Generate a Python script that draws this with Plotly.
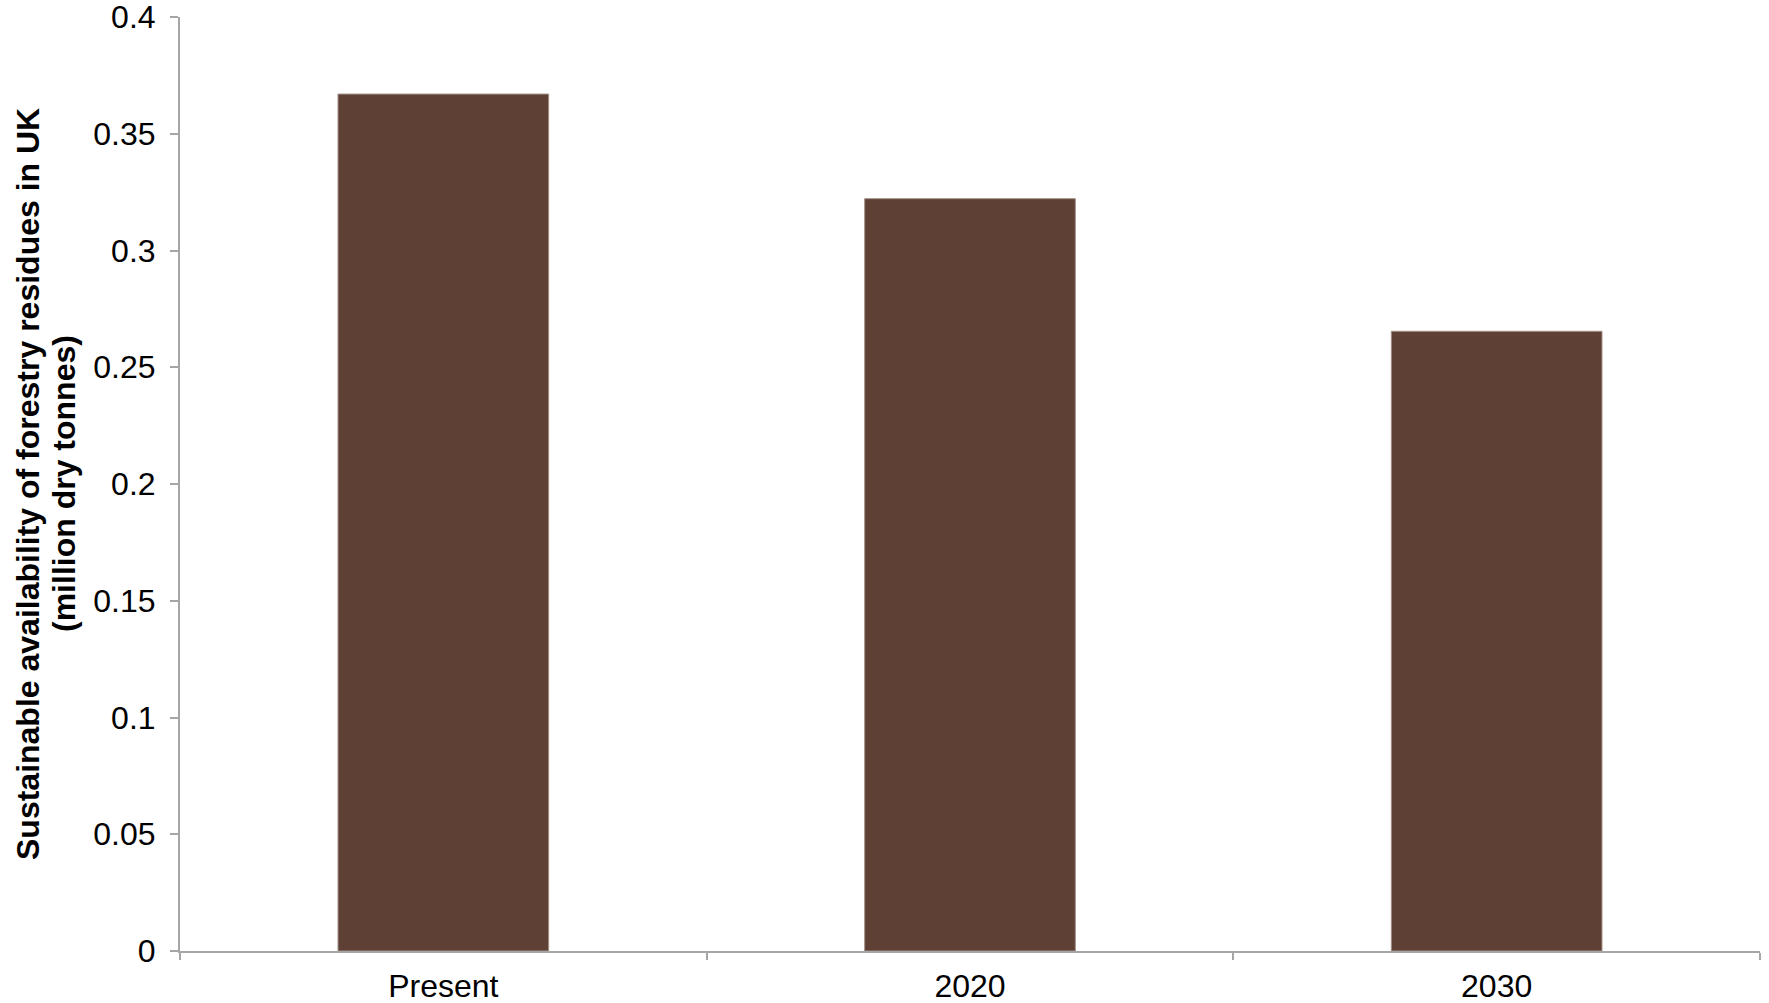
import plotly.graph_objects as go

categories = ["Present", "2020", "2030"]
values = [0.367, 0.3222, 0.2654]
y_ticks = [0, 0.05, 0.1, 0.15, 0.2, 0.25, 0.3, 0.35, 0.4]
y_tick_labels = ["0", "0.05", "0.1", "0.15", "0.2", "0.25", "0.3", "0.35", "0.4"]
title_lines = ["Sustainable availability of forestry residues in UK", "(million dry tonnes)"]

fig = go.Figure(go.Bar(
    x=categories, y=values, width=0.4,
    marker=dict(color="#5e4034", line=dict(color="#a39088", width=1)),
))

axis_color = "#a6a6a6"
font_family = "Liberation Sans, Arial, sans-serif"

fig.update_layout(
    width=1769, height=1003,
    margin=dict(l=180, r=9, t=17, b=52, autoexpand=False),
    plot_bgcolor="white", paper_bgcolor="white",
    showlegend=False,
    font=dict(family=font_family, color="black", size=32),
    xaxis=dict(
        automargin=False,
        showline=True, linecolor=axis_color, linewidth=2,
        ticks="outside", tickson="boundaries", ticklen=7, tickcolor=axis_color, tickwidth=2,
        tickfont=dict(size=32), ticklabelstandoff=6, ticklabeloverflow="allow",
        showgrid=False, zeroline=False,
    ),
    yaxis=dict(
        automargin=False,
        range=[0, 0.4], tickvals=y_ticks, ticktext=y_tick_labels,
        showline=True, linecolor=axis_color, linewidth=2,
        ticks="outside", ticklen=8, tickcolor=axis_color, tickwidth=2,
        tickfont=dict(size=32), ticklabelstandoff=8, ticklabeloverflow="allow",
        showgrid=False, zeroline=False,
    ),
)

for line, shift in zip(title_lines, [-152, -116]):
    fig.add_annotation(
        text=f"<b>{line}</b>", textangle=-90,
        xref="paper", yref="paper", x=0, y=0.5,
        xanchor="center", yanchor="middle", xshift=shift,
        showarrow=False, font=dict(size=32, family=font_family, color="black"),
    )

fig.write_html(
    "out.html",
    config={"displayModeBar": False},
    post_script="document.body.style.margin='0';",
)
